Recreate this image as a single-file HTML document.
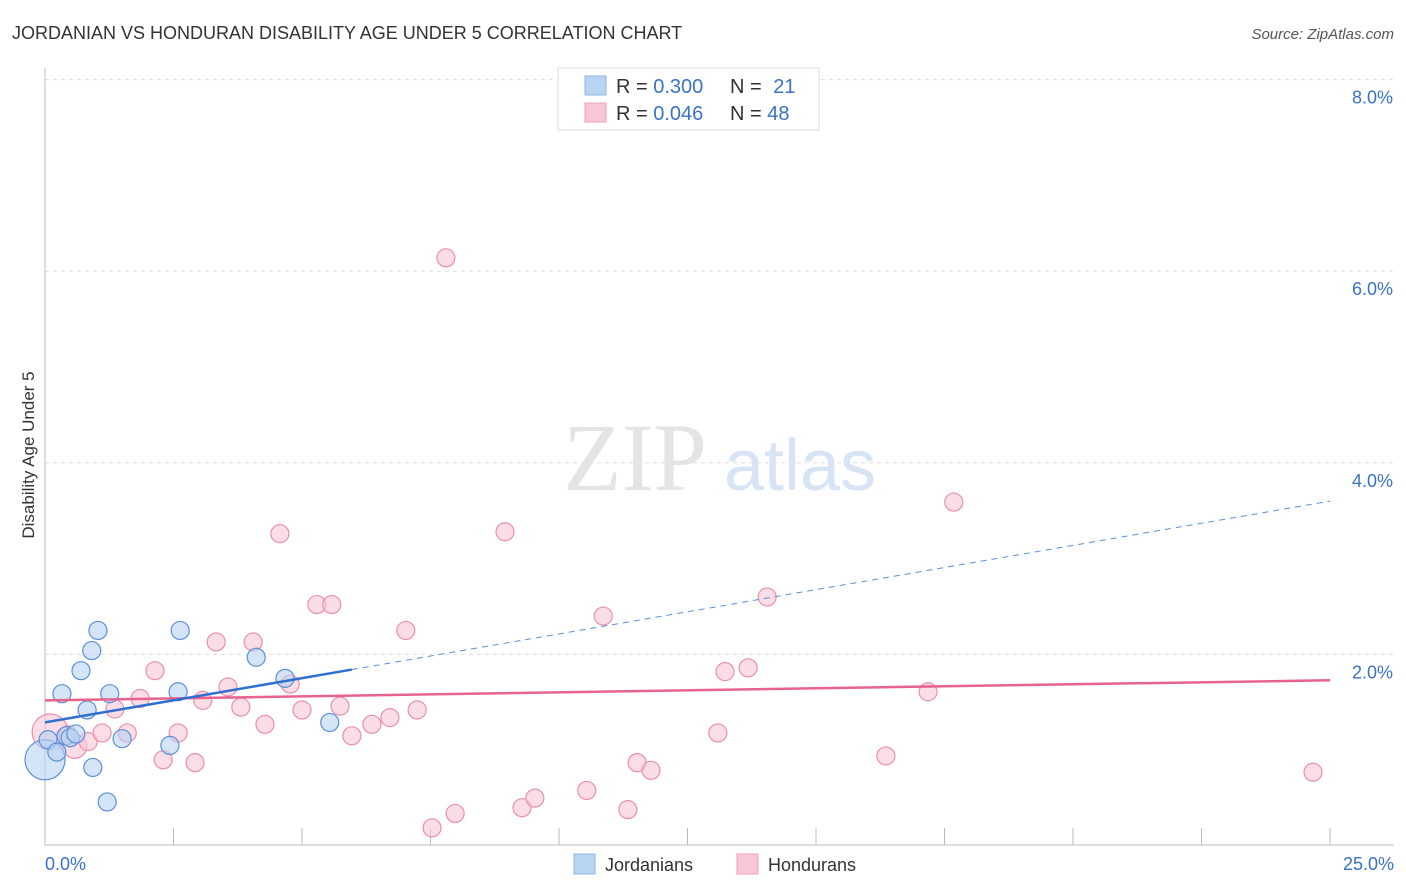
<!DOCTYPE html>
<html><head><meta charset="utf-8"><style>
body{margin:0;background:#fff;font-family:"Liberation Sans",sans-serif;}
svg{display:block}
</style></head><body>
<svg id="chart" width="1406" height="892">
<text x="12" y="39" font-size="18" fill="#333">JORDANIAN VS HONDURAN DISABILITY AGE UNDER 5 CORRELATION CHART</text>
<text x="1394" y="39" font-size="15" fill="#555" font-style="italic" text-anchor="end">Source: ZipAtlas.com</text>
<text transform="translate(34,455) rotate(-90)" font-size="17" fill="#333" text-anchor="middle">Disability Age Under 5</text>
<g id="grid"></g>
<g id="watermark">
<text x="635" y="490" font-size="96" fill="#e4e4e4" font-family="Liberation Serif,serif" text-anchor="middle">ZIP</text>
<text x="800" y="490" font-size="72" fill="#d6e4f5" text-anchor="middle">atlas</text>
</g>
<g id="axes"></g>
<g id="pts"></g>
<g id="lines"></g>
<g>
<rect x="558" y="68" width="261" height="62" fill="#fff" stroke="#ddd"/>
<rect x="585" y="76" width="21" height="19" fill="#b9d3f3" stroke="#8fb5e8"/>
<rect x="585" y="103" width="21" height="19" fill="#f9c6d5" stroke="#f0a3ba"/>
<text x="616" y="93" font-size="20" fill="#333">R = <tspan fill="#3a72c8">0.300</tspan></text>
<text x="730" y="93" font-size="20" fill="#333">N = <tspan fill="#3a72c8" dx="6">21</tspan></text>
<text x="616" y="120" font-size="20" fill="#333">R = <tspan fill="#3a72c8">0.046</tspan></text>
<text x="730" y="120" font-size="20" fill="#333">N = <tspan fill="#3a72c8">48</tspan></text>
</g>
<g>
<rect x="574" y="854" width="21" height="20" fill="#b9d3f3" stroke="#8fb5e8"/>
<text x="605" y="871" font-size="18" fill="#333">Jordanians</text>
<rect x="737" y="854" width="21" height="20" fill="#f9c6d5" stroke="#f0a3ba"/>
<text x="768" y="871" font-size="18" fill="#333">Hondurans</text>
</g>
</svg>
<script>
const yTicks=[2,4,6,8];
const yTickLabels=["2.0%","4.0%","6.0%","8.0%"];
const xTickLabels=["0.0%","25.0%"];
const blueX=[0.00,0.06,0.23,0.33,0.41,0.49,0.60,0.70,0.82,0.91,0.93,1.03,1.21,1.26,1.50,2.43,2.59,2.63,4.11,4.67,5.54];
const blueY=[0.90,1.11,0.98,1.59,1.15,1.13,1.17,1.83,1.42,2.04,0.82,2.25,0.46,1.59,1.12,1.05,1.61,2.25,1.97,1.75,1.29];
const pinkX=[0.10,0.58,0.45,0.84,1.11,1.36,1.60,1.85,2.14,2.30,2.59,2.92,3.07,3.33,3.56,3.81,4.05,4.28,4.57,4.77,5.00,5.29,5.58,5.74,5.97,6.36,6.71,7.02,7.24,7.53,7.80,7.98,8.95,9.28,9.53,10.54,10.86,11.34,11.52,11.79,13.09,13.23,13.68,14.05,16.36,17.18,17.68,24.67];
const pinkY=[1.19,1.04,1.16,1.09,1.18,1.43,1.18,1.54,1.83,0.90,1.18,0.87,1.52,2.13,1.66,1.45,2.13,1.27,3.26,1.69,1.42,2.52,2.52,1.46,1.15,1.27,1.34,2.25,1.42,0.19,6.14,0.34,3.28,0.40,0.50,0.58,2.40,0.38,0.87,0.79,1.18,1.82,1.86,2.60,0.94,1.61,3.59,0.77];
const blueTrend=[1.29,3.6]; // at x=0 and x=25
const pinkTrend=[1.52,1.73];
const NS="http://www.w3.org/2000/svg";
const sx=v=>45+v*(1285/25);
const sy=v=>846-v*95.8;
function mk(tag,attrs,parent){const e=document.createElementNS(NS,tag);for(const k in attrs)e.setAttribute(k,attrs[k]);parent.appendChild(e);return e;}
const grid=document.getElementById('grid'),axes=document.getElementById('axes'),pts=document.getElementById('pts'),lines=document.getElementById('lines');
yTicks.forEach((t,i)=>{
 const l=mk('line',{x1:45,x2:1394,y1:sy(t),y2:sy(t),stroke:'#ddd','stroke-dasharray':'4,4'},grid);
 
 
 const tx=mk('text',{x:1393,y:sy(t)+24,'font-size':18,fill:'#3a72c8','text-anchor':'end'},axes);
 tx.textContent=yTickLabels[i];
 
 
});
mk('line',{x1:45,x2:45,y1:68,y2:845,stroke:'#bbb'},axes);
mk('line',{x1:45,x2:1394,y1:845,y2:845,stroke:'#bbb'},axes);
for(let i=1;i<=10;i++){
 const t=mk('line',{x1:sx(i*2.5),x2:sx(i*2.5),y1:828,y2:845,stroke:'#bbb'},axes);
 
 
}
[[0,'start',45],[25,'end',1394]].forEach((d,i)=>{
 const tx=mk('text',{x:d[2],y:870,'font-size':18,fill:'#3a72c8','text-anchor':d[1]},axes);
 tx.textContent=xTickLabels[i];
 
 
});
pinkX.forEach((x,i)=>{
 const r=i==0?18:(i==1?12:9);
 const c=mk('circle',{cx:sx(x),cy:sy(pinkY[i]),r:r,fill:'#f9c6d5','fill-opacity':0.6,stroke:'#eb8fab','stroke-width':1.2},pts);
 
 
});
blueX.forEach((x,i)=>{
 const r=i==0?20:9;
 const c=mk('circle',{cx:sx(x),cy:sy(blueY[i]),r:r,fill:'#b9d3f3','fill-opacity':0.6,stroke:'#5b8fd8','stroke-width':1.2},pts);
 
 
});
const bAt=x=>blueTrend[0]+(blueTrend[1]-blueTrend[0])*x/25;
const pl=mk('line',{x1:sx(0),y1:sy(pinkTrend[0]),x2:sx(25),y2:sy(pinkTrend[1]),stroke:'#e8628e','stroke-width':2.5},lines);


const bl=mk('line',{x1:sx(0),y1:sy(bAt(0)),x2:sx(5.97),y2:sy(bAt(5.97)),stroke:'#2e6fd0','stroke-width':2.5},lines);


const bd=mk('line',{x1:sx(5.97),y1:sy(bAt(5.97)),x2:sx(25),y2:sy(bAt(25)),stroke:'#5b8fd8','stroke-width':1,'stroke-dasharray':'6,5'},lines);


</script>
</body></html>
